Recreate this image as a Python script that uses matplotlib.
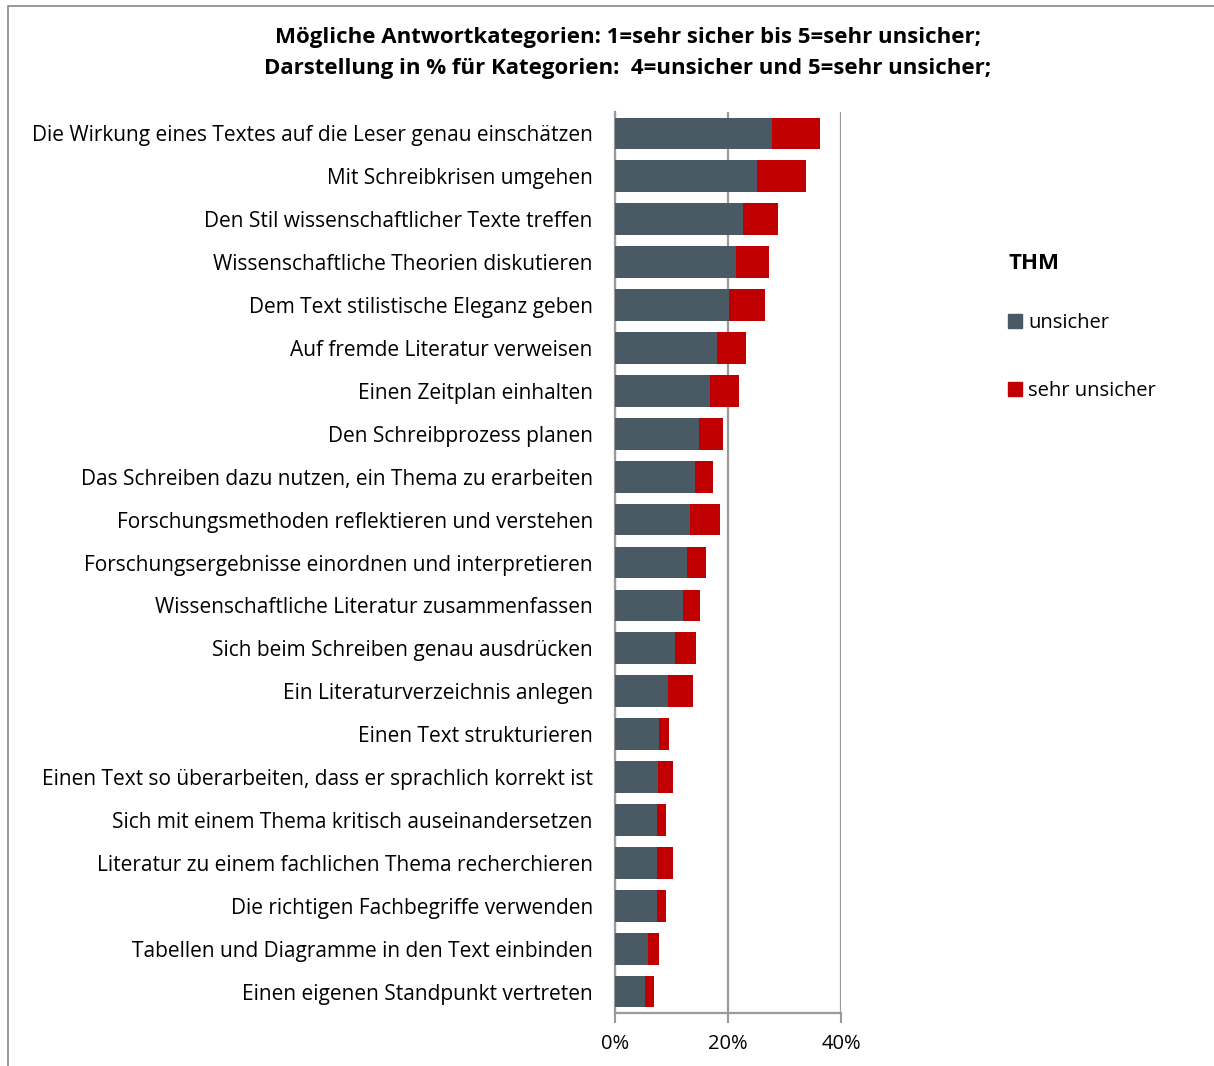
import matplotlib
matplotlib.use("Agg")
import matplotlib.pyplot as plt
from matplotlib.patches import Rectangle, Patch
from matplotlib.ticker import PercentFormatter

plt.rcParams['font.family'] = ['Open Sans', 'DejaVu Sans']

# categories, top to bottom
categories = [
    "Die Wirkung eines Textes auf die Leser genau einschätzen",
    "Mit Schreibkrisen umgehen",
    "Den Stil wissenschaftlicher Texte treffen",
    "Wissenschaftliche Theorien diskutieren",
    "Dem Text stilistische Eleganz geben",
    "Auf fremde Literatur verweisen",
    "Einen Zeitplan einhalten",
    "Den Schreibprozess planen",
    "Das Schreiben dazu nutzen, ein Thema zu erarbeiten",
    "Forschungsmethoden reflektieren und verstehen",
    "Forschungsergebnisse einordnen und interpretieren",
    "Wissenschaftliche Literatur zusammenfassen",
    "Sich beim Schreiben genau ausdrücken",
    "Ein Literaturverzeichnis anlegen",
    "Einen Text strukturieren",
    "Einen Text so überarbeiten, dass er sprachlich korrekt ist",
    "Sich mit einem Thema kritisch auseinandersetzen",
    "Literatur zu einem fachlichen Thema recherchieren",
    "Die richtigen Fachbegriffe verwenden",
    "Tabellen und Diagramme in den Text einbinden",
    "Einen eigenen Standpunkt vertreten",
]

# % unsicher (4)
unsicher = [27.8, 25.1, 22.6, 21.5, 20.2, 18.1, 16.8, 14.9, 14.2, 13.3, 12.8,
            12.1, 10.7, 9.4, 7.8, 7.6, 7.5, 7.5, 7.35, 5.8, 5.35]
# % sehr unsicher (5)
sehr_unsicher = [8.5, 8.7, 6.2, 5.7, 6.3, 5.1, 5.2, 4.2, 3.1, 5.2, 3.3,
                 2.9, 3.6, 4.4, 1.8, 2.6, 1.6, 2.7, 1.75, 1.9, 1.55]

title = ("Mögliche Antwortkategorien: 1=sehr sicher bis 5=sehr unsicher;\n"
         "Darstellung in % für Kategorien:  4=unsicher und 5=sehr unsicher;")

dark = "#4A5A64"
red = "#C00000"
grid_col = "#9A9A9A"

fig = plt.figure(figsize=(12.14, 10.66), dpi=100)
ax = fig.add_axes([615/1214, 1-1013/1066, 226/1214, 901/1066])

y = list(range(len(categories)))
ax.barh(y, unsicher, height=0.74, color=dark, label="unsicher", zorder=3)
ax.barh(y, sehr_unsicher, left=unsicher, height=0.74, color=red,
        label="sehr unsicher", zorder=3)

ax.set_ylim(len(categories) - 0.5, -0.5)
ax.set_yticks(y)
ax.set_yticklabels(categories, fontsize=15)
ax.tick_params(axis="y", length=0, pad=16)

ax.set_xlim(0, 40)
ax.set_xticks([0, 20, 40])
ax.xaxis.set_major_formatter(PercentFormatter(decimals=0))
ax.tick_params(axis="x", direction="out", length=7, width=1.5, color=grid_col,
               labelsize=14.5, pad=8)
ax.grid(axis="x", color=grid_col, linewidth=1.6, zorder=0)

for s in ["top", "right"]:
    ax.spines[s].set_visible(False)
ax.spines["left"].set_color(grid_col)
ax.spines["left"].set_linewidth(1.6)
ax.spines["bottom"].set_color(grid_col)
ax.spines["bottom"].set_linewidth(1.6)

fig.text(628/1214, 1-53/1066, title, ha="center", va="center", fontsize=16,
         fontweight="bold", linespacing=1.6)

handles = [Patch(color=dark), Patch(color=red)]
leg = fig.legend(handles, ["unsicher", "sehr unsicher"], title="THM",
                 loc="upper left", bbox_to_anchor=(990/1214, 1-235/1066),
                 frameon=False, fontsize=14.5, labelspacing=2.4,
                 handlelength=0.7, handleheight=0.7, handletextpad=0.3,
                 alignment="left",
                 title_fontproperties={"weight": "bold", "size": 16})
leg._legend_box.sep = 28

# outer chart frame (cut off at right and bottom)
fig.patches.append(Rectangle((8/1214, -0.2), 1.2, 1.2 - 6/1066,
                             transform=fig.transFigure, fill=False,
                             edgecolor="#888888", linewidth=1.2))

fig.savefig("out.png", dpi=100)
